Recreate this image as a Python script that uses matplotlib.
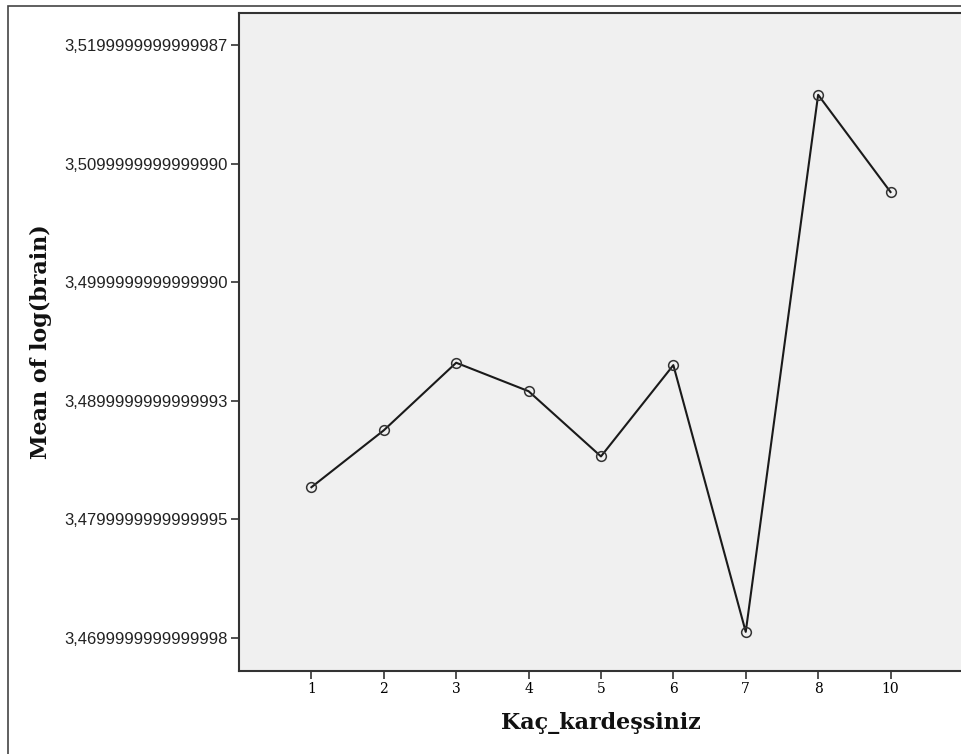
import matplotlib.pyplot as plt
from matplotlib.patches import Rectangle

# data
categories = ['1', '2', '3', '4', '5', '6', '7', '8', '10']
means = [3.4827, 3.4875, 3.4932, 3.4908, 3.4853, 3.4930, 3.4705, 3.5158, 3.5076]
ytick_vals = [3.47, 3.48, 3.49, 3.50, 3.51, 3.52]
ytick_labels = ['3,4699999999999998', '3,4799999999999995', '3,4899999999999993',
                '3,4999999999999990', '3,5099999999999990', '3,5199999999999987']

fig = plt.figure(figsize=(9.61, 7.54), dpi=100)
fig.patch.set_facecolor('white')

# outer frame
fig.patches.append(Rectangle((8/961, -0.1), 2.0, 1.1 - 6/754, transform=fig.transFigure,
                             fill=False, edgecolor='#444444', linewidth=1.2))

ax = fig.add_axes([239/961, 1 - 671/754, 1 - 239/961 + 0.002, (671 - 13)/754])
ax.set_facecolor('#f0f0f0')

xpos = list(range(1, len(categories) + 1))
ax.plot(xpos, means, color='#1a1a1a', linewidth=1.5, marker='o', markersize=7,
        markerfacecolor='none', markeredgecolor='#333333', markeredgewidth=1.1)

ax.set_xlim(0, 10)
ax.set_ylim(3.4672, 3.5227)
ax.set_xticks(xpos)
ax.set_xticklabels(categories, fontfamily='DejaVu Serif', fontsize=10)
ax.set_yticks(ytick_vals)
ax.set_yticklabels(ytick_labels, fontfamily='Liberation Sans', fontsize=12, color='#222222')

for s in ['left', 'bottom', 'top']:
    ax.spines[s].set_color('#333333')
    ax.spines[s].set_linewidth(1.5)
ax.spines['right'].set_visible(False)
ax.tick_params(axis='both', direction='out', length=6, width=1.2, color='#333333', pad=2)

ax.set_xlabel('Kaç_kardeşsiniz', fontfamily='DejaVu Serif', fontsize=16, fontweight='bold',
              color='#111111')
ax.set_ylabel('Mean of log(brain)', fontfamily='DejaVu Serif', fontsize=16, fontweight='bold',
              color='#111111')
# label positions in pixels, converted to axes fractions
ax.xaxis.set_label_coords(0.5, (671 - 712) / 658)
ax.yaxis.set_label_coords((52 - 239) / 723, 0.5)

fig.savefig('out.png', dpi=100)
